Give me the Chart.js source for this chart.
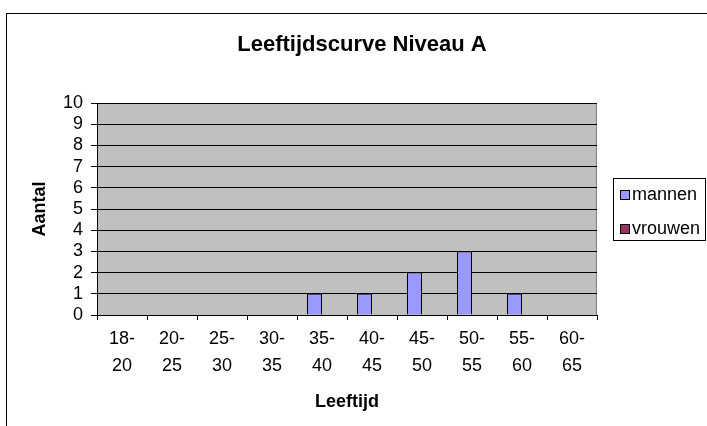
<!DOCTYPE html>
<html>
<head>
<meta charset="utf-8">
<title>Leeftijdscurve Niveau A</title>
<script src="https://cdn.jsdelivr.net/npm/chart.js@4.4.1/dist/chart.umd.min.js"></script>
<style>
  html, body { margin: 0; padding: 0; background: #fff; overflow: hidden; }
  canvas { display: block; }
</style>
</head>
<body>
<canvas id="chart" width="718" height="426"></canvas>
<script>
// data
var categories = [
  ["18-", "20"], ["20-", "25"], ["25-", "30"], ["30-", "35"], ["35-", "40"],
  ["40-", "45"], ["45-", "50"], ["50-", "55"], ["55-", "60"], ["60-", "65"]
];
var mannen = [0, 0, 0, 0, 1, 1, 2, 3, 1, 0];
var vrouwen = [0, 0, 0, 0, 0, 0, 0, 0, 0, 0];
var seriesNames = ["mannen", "vrouwen"];
var seriesColors = ["#9999FF", "#993366"];

var fontFamily = "'Liberation Sans', Arial, sans-serif";

// grijze plotachtergrond, kader en eigen legenda
var excelLook = {
  id: "excelLook",
  beforeDraw: function (chart) {
    var ctx = chart.ctx;
    var a = chart.chartArea;
    ctx.save();
    ctx.fillStyle = "#C0C0C0";
    ctx.fillRect(a.left, a.top, a.right - a.left, a.bottom - a.top);
    ctx.strokeStyle = "#808080";
    ctx.lineWidth = 1;
    ctx.strokeRect(a.left + 0.5, a.top + 0.5, a.right - a.left - 1, a.bottom - a.top);
    // buitenkader van de grafiek
    ctx.strokeStyle = "#000";
    ctx.strokeRect(6.5, 13.5, 900, 900);
    ctx.restore();
  },
  afterDraw: function (chart) {
    var ctx = chart.ctx;
    ctx.save();
    ctx.strokeStyle = "#000";
    ctx.lineWidth = 1;
    ctx.strokeRect(613.5, 178.5, 92, 62);
    ctx.font = "18px " + fontFamily;
    ctx.textBaseline = "middle";
    chart.data.datasets.forEach(function (ds, i) {
      var y = 190.5 + i * 34;
      ctx.fillStyle = ds.backgroundColor;
      ctx.fillRect(620.5, y, 9, 9);
      ctx.strokeRect(620.5, y, 9, 9);
      ctx.fillStyle = "#000";
      ctx.fillText(ds.label, 632, y + 4.5);
    });
    ctx.restore();
  }
};

var ctx = document.getElementById("chart").getContext("2d");
var chart = new Chart(ctx, {
  type: "bar",
  data: {
    labels: categories,
    datasets: [
      {
        label: seriesNames[0],
        data: mannen,
        backgroundColor: seriesColors[0],
        borderColor: "#000",
        borderWidth: 1,
        categoryPercentage: 0.6,
        barPercentage: 1.0
      },
      {
        label: seriesNames[1],
        data: vrouwen,
        backgroundColor: seriesColors[1],
        borderColor: "#000",
        borderWidth: 1,
        categoryPercentage: 0.6,
        barPercentage: 1.0
      }
    ]
  },
  options: {
    responsive: false,
    animation: false,
    devicePixelRatio: 1,
    layout: { padding: { left: 6, right: 0, top: 0, bottom: 0 } },
    plugins: {
      legend: { display: false },
      tooltip: { enabled: false },
      title: {
        display: true,
        text: "Leeftijdscurve Niveau A",
        color: "#000",
        font: { family: fontFamily, size: 22, weight: "bold" },
        padding: { top: 32, bottom: 44.6 }
      }
    },
    scales: {
      x: {
        grid: {
          offset: true,
          drawOnChartArea: false,
          drawTicks: true,
          tickLength: 5,
          tickColor: "#000"
        },
        border: { color: "#000" },
        ticks: {
          color: "#000",
          font: { family: fontFamily, size: 18, lineHeight: 1.5 },
          padding: 6,
          maxRotation: 0,
          autoSkip: false
        },
        title: {
          display: true,
          text: "Leeftijd",
          color: "#000",
          font: { family: fontFamily, size: 18, weight: "bold" },
          padding: { top: 0, bottom: 13 }
        },
        afterFit: function (scale) { scale.height = 111; }
      },
      y: {
        min: 0,
        max: 10,
        grid: {
          color: "#000",
          tickColor: "#000",
          tickLength: 6
        },
        border: { color: "#000" },
        ticks: {
          stepSize: 1,
          autoSkip: false,
          color: "#000",
          font: { family: fontFamily, size: 18 },
          padding: 8
        },
        title: {
          display: true,
          text: "Aantal",
          color: "#000",
          font: { family: fontFamily, size: 18, weight: "bold" },
          padding: { top: 23, bottom: 0 }
        },
        afterFit: function (scale) { scale.width = 91; }
      },
      // lege as rechts: ruimte voor de legenda
      ruimte: {
        type: "linear",
        position: "right",
        display: true,
        grid: { display: false },
        border: { display: false },
        ticks: { display: false },
        afterFit: function (scale) { scale.width = 121; }
      }
    }
  },
  plugins: [excelLook]
});
</script>
</body>
</html>
